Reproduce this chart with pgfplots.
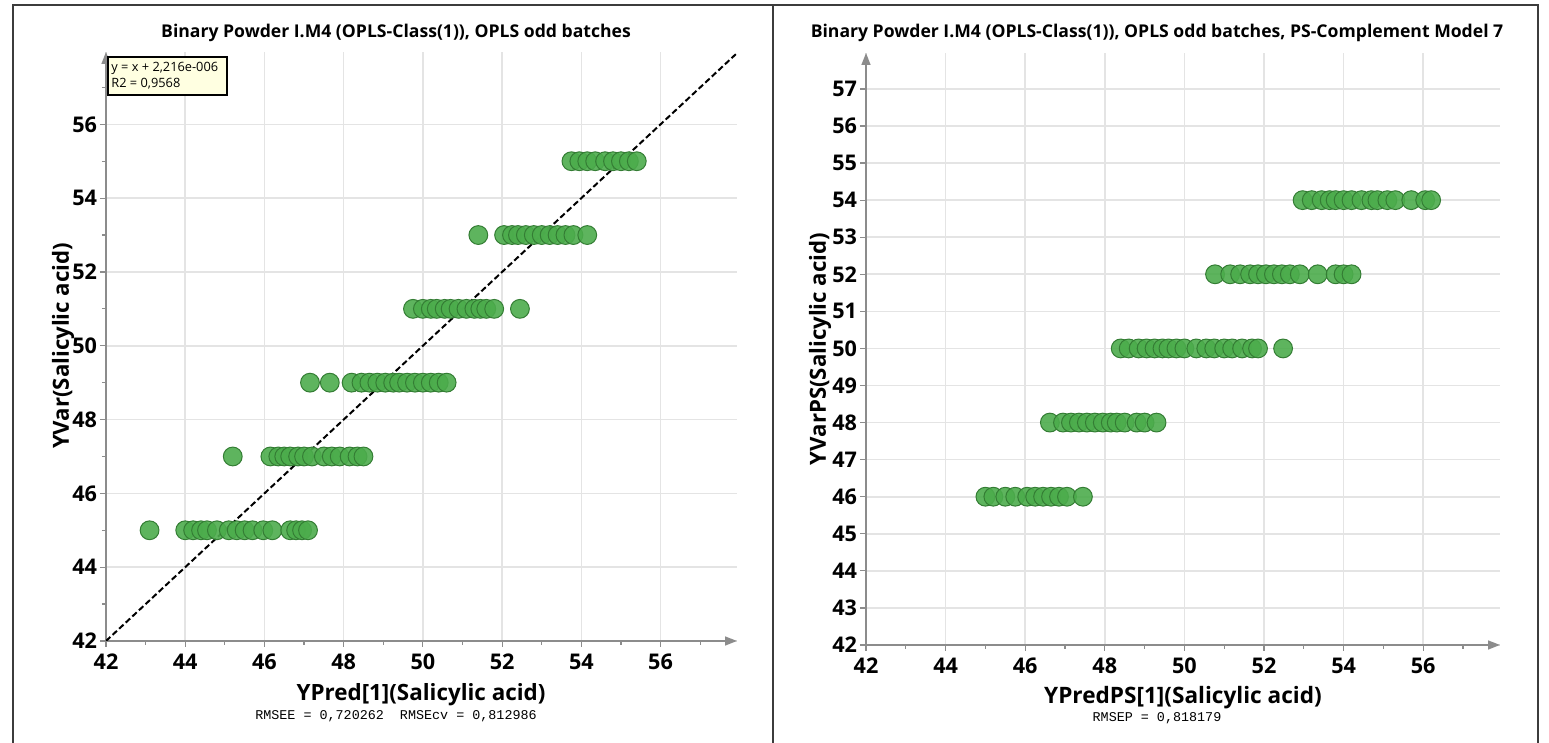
\documentclass[border=0pt]{standalone}
\usepackage{fontspec}
\setmainfont{Open Sans}
\setmonofont{Liberation Mono}
\usepackage{pgfplots}
\pgfplotsset{compat=1.18}
\usetikzlibrary{arrows.meta}
\definecolor{ptfill}{RGB}{76,172,76}
\definecolor{ptedge}{RGB}{52,125,52}
\definecolor{axgray}{RGB}{140,140,140}
\definecolor{gridgray}{RGB}{228,228,228}
\definecolor{boxfill}{RGB}{255,255,225}
\definecolor{framecol}{RGB}{60,60,60}
\pgfplotsset{
  mystyle/.style={
    scale only axis,
    axis lines=left,
    axis line style={draw=axgray, line width=0.8pt, -{Triangle[length=6pt,width=4.5pt]}},
    tick align=outside,
    major tick length=3pt,
    minor tick length=2pt,
    every tick/.style={draw=axgray, line width=0.6pt},
    grid=major,
    major grid style={draw=gridgray, line width=0.8pt},
    ticklabel style={font=\fontsize{10.8}{12}\selectfont\bfseries},
    yticklabel style={xshift=2pt},
    /pgf/number format/assume math mode=true,
    xmin=42, ymin=42,
    xtick={42,44,...,56},
    minor xtick={43,45,...,57},
  },
  pts/.style={only marks, mark=*, mark size=4.7pt,
    mark options={fill=ptfill, draw=ptedge, line width=0.5pt, fill opacity=0.9}},
}
\begin{document}
\begin{tikzpicture}
\useasboundingbox (0pt,0pt) rectangle (774.5pt,371.5pt);
% frames
\draw[framecol, line width=1pt] (6.5pt,-2pt) -- (6.5pt,369pt) -- (769pt,369pt) -- (769pt,-2pt);
\draw[framecol, line width=1pt] (386.5pt,-2pt) -- (386.5pt,369pt);

% ---------- left panel ----------
\begin{axis}[mystyle, at={(53pt,51pt)}, anchor=south west,
  width=315.5pt, height=294.5pt,
  xmax=57.93, ymax=57.96,
  ytick={42,44,...,56}, minor ytick={43,45,...,57}]
\addplot[pts] table[x=x,y=y] {
x y
43.1 45
44.0 45
44.2 45
44.4 45
44.55 45
44.8 45
45.1 45
45.3 45
45.5 45
45.7 45
45.97 45
46.2 45
46.65 45
46.8 45
46.95 45
47.1 45
45.2 47
46.15 47
46.35 47
46.5 47
46.65 47
46.85 47
47.0 47
47.2 47
47.5 47
47.7 47
47.9 47
48.15 47
48.35 47
48.5 47
47.15 49
47.65 49
48.2 49
48.45 49
48.65 49
48.85 49
49.05 49
49.25 49
49.4 49
49.6 49
49.8 49
50.0 49
50.2 49
50.4 49
50.6 49
49.75 51
50.0 51
50.2 51
50.35 51
50.55 51
50.7 51
50.9 51
51.1 51
51.3 51
51.45 51
51.6 51
51.8 51
52.45 51
51.4 53
52.05 53
52.25 53
52.4 53
52.6 53
52.8 53
53.0 53
53.2 53
53.4 53
53.6 53
53.8 53
54.15 53
53.75 55
53.95 55
54.15 55
54.35 55
54.6 55
54.8 55
55.0 55
55.2 55
55.4 55
};
\addplot[black, line width=1pt, dash pattern=on 3pt off 1.5pt] coordinates {(42,42) (57.9,57.9)};
\end{axis}

% ---------- right panel ----------
\begin{axis}[mystyle, at={(433pt,49pt)}, anchor=south west,
  width=317pt, height=296pt,
  xmax=57.93, ymax=57.97,
  ytick={42,43,...,57}]
\addplot[pts] table[x=x,y=y] {
x y
45.0 46
45.2 46
45.5 46
45.75 46
46.05 46
46.25 46
46.45 46
46.65 46
46.85 46
47.05 46
47.45 46
46.62 48
46.95 48
47.15 48
47.35 48
47.55 48
47.75 48
47.95 48
48.15 48
48.3 48
48.5 48
48.8 48
49.0 48
49.3 48
48.4 50
48.6 50
48.85 50
49.05 50
49.25 50
49.45 50
49.6 50
49.8 50
50.0 50
50.3 50
50.55 50
50.75 50
51.0 50
51.2 50
51.45 50
51.7 50
51.85 50
52.48 50
50.77 52
51.15 52
51.4 52
51.65 52
51.85 52
52.05 52
52.25 52
52.45 52
52.65 52
52.9 52
53.35 52
53.8 52
54.0 52
54.2 52
52.97 54
53.2 54
53.45 54
53.65 54
53.8 54
54.0 54
54.2 54
54.45 54
54.7 54
54.85 54
55.1 54
55.3 54
55.7 54
56.05 54
56.2 54
};
\end{axis}

% titles
\node[font=\fontsize{8.8}{10}\selectfont\bfseries] at (198pt,355pt) {Binary Powder I.M4 (OPLS-Class(1)), OPLS odd batches};
\node[font=\fontsize{8.8}{10}\selectfont\bfseries] at (578.5pt,355pt) {Binary Powder I.M4 (OPLS-Class(1)), OPLS odd batches, PS-Complement Model 7};
% axis labels
\node[font=\fontsize{11.2}{13}\selectfont\bfseries] at (210.5pt,24pt) {YPred[1](Salicylic acid)};
\node[font=\fontsize{11.3}{13}\selectfont\bfseries] at (591.5pt,22.5pt) {YPredPS[1](Salicylic acid)};
\node[font=\fontsize{11.1}{13}\selectfont\bfseries, rotate=90] at (31.5pt,198.5pt) {YVar(Salicylic acid)};
\node[font=\fontsize{11.1}{13}\selectfont\bfseries, rotate=90] at (410pt,197pt) {YVarPS(Salicylic acid)};
% footnotes
\node[font=\fontsize{6.7}{8}\selectfont\ttfamily] at (198pt,13.5pt) {RMSEE = 0,720262\ \ RMSEcv = 0,812986};
\node[font=\fontsize{6.7}{8}\selectfont\ttfamily] at (578.5pt,12.5pt) {RMSEP = 0,818179};
% regression box
\draw[fill=boxfill, draw=black, line width=0.6pt] (54pt,324pt) rectangle (113.5pt,343pt);
\node[anchor=west, inner sep=0pt, font=\fontsize{6.4}{7}\selectfont] at (55.5pt,337.5pt) {y = x + 2,216e-006};
\node[anchor=west, inner sep=0pt, font=\fontsize{6.4}{7}\selectfont] at (55.5pt,329.5pt) {R2 = 0,9568};
\end{tikzpicture}
\end{document}
